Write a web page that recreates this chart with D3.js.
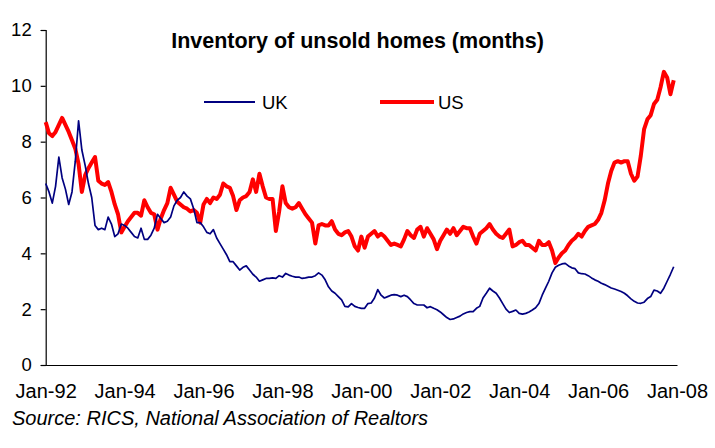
<!DOCTYPE html>
<html>
<head>
<meta charset="utf-8">
<script src="https://cdn.jsdelivr.net/npm/d3@7"></script>
<style>
  html, body { margin: 0; padding: 0; background: #fff; }
  svg { display: block; font-family: "Liberation Sans", Arial, sans-serif; }
</style>
</head>
<body>
<svg id="chart" width="715" height="448"></svg>
<script>
// ---- Data (monthly, Jan-92 .. Dec-07) ----
const title = "Inventory of unsold homes (months)";
const source = "Source: RICS, National Association of Realtors";
const seriesNames = ["UK", "US"];
const startYear = 1992;
const tickLabels = ["Jan-92","Jan-94","Jan-96","Jan-98","Jan-00","Jan-02","Jan-04","Jan-06","Jan-08"];
const yTicks = [0, 2, 4, 6, 8, 10, 12];

const ukValues = [
  // 1992
  6.5, 6.2, 5.8, 6.4, 7.45, 6.7, 6.3, 5.75, 6.2, 7.3, 8.75, 7.7,
  // 1993
  7.15, 6.5, 6.0, 5.0, 4.85, 4.9, 4.85, 5.3, 5.05, 4.6, 4.7, 5.05,
  // 1994
  5.0, 4.9, 4.75, 4.6, 4.55, 4.9, 4.5, 4.5, 4.65, 4.9, 5.4, 5.25,
  // 1995
  5.1, 5.15, 5.3, 5.7, 5.9, 6.0, 6.2, 6.05, 5.95, 5.6, 5.1, 5.1,
  // 1996
  4.95, 4.75, 4.7, 4.85, 4.55, 4.35, 4.15, 3.95, 3.7, 3.7, 3.55, 3.4,
  // 1997
  3.5, 3.55, 3.4, 3.25, 3.15, 3.0, 3.05, 3.1, 3.1, 3.12, 3.1, 3.2,
  // 1998
  3.15, 3.28, 3.22, 3.18, 3.15, 3.15, 3.1, 3.12, 3.15, 3.15, 3.2, 3.3,
  // 1999
  3.22, 3.05, 2.8, 2.65, 2.57, 2.45, 2.33, 2.1, 2.08, 2.2, 2.1, 2.06,
  // 2000
  2.03, 2.03, 2.2, 2.22, 2.4, 2.7, 2.5, 2.4, 2.45, 2.5, 2.52, 2.5,
  // 2001
  2.45, 2.5, 2.45, 2.33, 2.2, 2.15, 2.15, 2.15, 2.05, 2.09, 2.03, 1.98,
  // 2002
  1.9, 1.8, 1.7, 1.63, 1.65, 1.7, 1.75, 1.83, 1.88, 1.91, 1.91, 2.03,
  // 2003
  2.1, 2.4, 2.57, 2.75, 2.65, 2.57, 2.4, 2.2, 2.0, 1.88, 1.92, 1.97,
  // 2004
  1.85, 1.82, 1.85, 1.9, 1.97, 2.05, 2.2, 2.5, 2.75, 3.0, 3.3, 3.5,
  // 2005
  3.57, 3.62, 3.64, 3.55, 3.48, 3.45, 3.3, 3.27, 3.26, 3.2, 3.12, 3.05,
  // 2006
  3.0, 2.93, 2.88, 2.82, 2.76, 2.72, 2.68, 2.63, 2.57, 2.48, 2.37, 2.28,
  // 2007
  2.22, 2.21, 2.25, 2.38, 2.45, 2.68, 2.65, 2.57, 2.75, 3.0, 3.25, 3.52
];

const usValues = [
  // 1992
  8.7, 8.3, 8.2, 8.35, 8.6, 8.85, 8.6, 8.35, 8.05, 7.75, 7.2, 6.2,
  // 1993
  6.8, 7.05, 7.25, 7.45, 6.6, 6.5, 6.45, 6.55, 6.2, 5.75, 5.4, 4.75,
  // 1994
  4.95, 5.15, 5.3, 5.45, 5.45, 5.35, 5.9, 5.65, 5.45, 5.4, 4.85, 5.25,
  // 1995
  5.55, 5.8, 6.35, 6.1, 5.85, 5.75, 5.65, 5.6, 5.5, 5.55, 5.45, 5.1,
  // 1996
  5.75, 5.95, 5.8, 6.0, 5.95, 6.1, 6.5, 6.4, 6.35, 6.05, 5.55, 5.9,
  // 1997
  6.0, 6.05, 6.2, 6.65, 6.2, 6.85, 6.4, 6.0, 5.95, 5.95, 4.8, 5.5,
  // 1998
  6.4, 5.8, 5.65, 5.6, 5.65, 5.8, 5.6, 5.4, 5.25, 5.1, 4.35, 5.0,
  // 1999
  5.05, 5.0, 5.0, 5.15, 4.85, 4.7, 4.65, 4.75, 4.8, 4.6, 4.25, 4.1,
  // 2000
  4.6, 4.2, 4.6, 4.7, 4.8, 4.6, 4.7, 4.6, 4.45, 4.3, 4.35, 4.3,
  // 2001
  4.25, 4.5, 4.8, 4.65, 4.55, 4.85, 4.95, 4.6, 4.9, 4.7, 4.5, 4.15,
  // 2002
  4.45, 4.65, 4.85, 4.7, 4.9, 4.65, 4.8, 4.95, 4.9, 4.9, 4.6, 4.35,
  // 2003
  4.7, 4.8, 4.9, 5.05, 4.85, 4.7, 4.6, 4.55, 4.7, 4.85, 4.25, 4.3,
  // 2004
  4.4, 4.45, 4.3, 4.3, 4.2, 4.1, 4.45, 4.3, 4.3, 4.4, 4.1, 3.65,
  // 2005
  3.85, 4.0, 4.1, 4.3, 4.45, 4.55, 4.7, 4.6, 4.8, 4.95, 5.0, 5.05,
  // 2006
  5.2, 5.45, 5.9, 6.5, 6.95, 7.25, 7.3, 7.25, 7.3, 7.3, 6.85, 6.6,
  // 2007
  6.75, 7.5, 8.45, 8.8, 8.95, 9.35, 9.5, 9.95, 10.5, 10.3, 9.7, 10.2
];

// ---- Layout ----
const svg = d3.select("#chart");
const x = d3.scaleLinear().domain([0, 192]).range([45.7, 677]);
const y = d3.scaleLinear().domain([0, 12]).range([365, 30]);

// Title
svg.append("text")
  .attr("x", 357.5).attr("y", 48)
  .attr("text-anchor", "middle")
  .attr("font-weight", "bold")
  .attr("font-size", "21.5px")
  .attr("fill", "#000")
  .text(title);

// Y axis
const yAxis = d3.axisLeft(y).tickValues(yTicks).tickSize(5).tickPadding(9)
  .tickFormat(d3.format("d"));
const gy = svg.append("g").attr("transform", "translate(45.7,0)").call(yAxis);
gy.select(".domain").attr("stroke", "#000").attr("stroke-width", 1.2);
gy.selectAll(".tick line").attr("stroke", "#000").attr("stroke-width", 1.2);
gy.selectAll(".tick text")
  .attr("font-size", "18.5px")
  .attr("font-family", "'Liberation Sans', Arial, sans-serif")
  .attr("fill", "#000");

// X axis (line only, labels below)
const xAxis = d3.axisBottom(x)
  .tickValues(tickLabels.map((_, i) => i * 24))
  .tickSize(0).tickPadding(19)
  .tickFormat((d, i) => tickLabels[i]);
const gx = svg.append("g").attr("transform", "translate(0,365)").call(xAxis);
gx.select(".domain").attr("stroke", "#000").attr("stroke-width", 1.2);
gx.selectAll(".tick text")
  .attr("font-size", "20px")
  .attr("font-family", "'Liberation Sans', Arial, sans-serif")
  .attr("fill", "#000");

// Lines
const line = d3.line()
  .x((d, i) => x(i))
  .y(d => y(d));

svg.append("path")
  .datum(usValues)
  .attr("fill", "none")
  .attr("stroke", "#FF0000")
  .attr("stroke-width", 4)
  .attr("stroke-linejoin", "round")
  .attr("d", line);

svg.append("path")
  .datum(ukValues)
  .attr("fill", "none")
  .attr("stroke", "#000080")
  .attr("stroke-width", 1.7)
  .attr("stroke-linejoin", "round")
  .attr("d", line);

// Legend
const legendItems = [
  { name: seriesNames[0], color: "#000080", width: 2, x1: 204, x2: 255, tx: 262 },
  { name: seriesNames[1], color: "#FF0000", width: 4, x1: 380, x2: 434, tx: 438 }
];
const lg = svg.append("g");
legendItems.forEach(it => {
  lg.append("line")
    .attr("x1", it.x1).attr("x2", it.x2)
    .attr("y1", 102).attr("y2", 102)
    .attr("stroke", it.color).attr("stroke-width", it.width);
  lg.append("text")
    .attr("x", it.tx).attr("y", 108.5)
    .attr("font-size", "18.5px")
    .attr("fill", "#000")
    .text(it.name);
});

// Source
svg.append("text")
  .attr("x", 12).attr("y", 425)
  .attr("font-style", "italic")
  .attr("font-size", "20px")
  .attr("fill", "#000")
  .text(source);
</script>
</body>
</html>
